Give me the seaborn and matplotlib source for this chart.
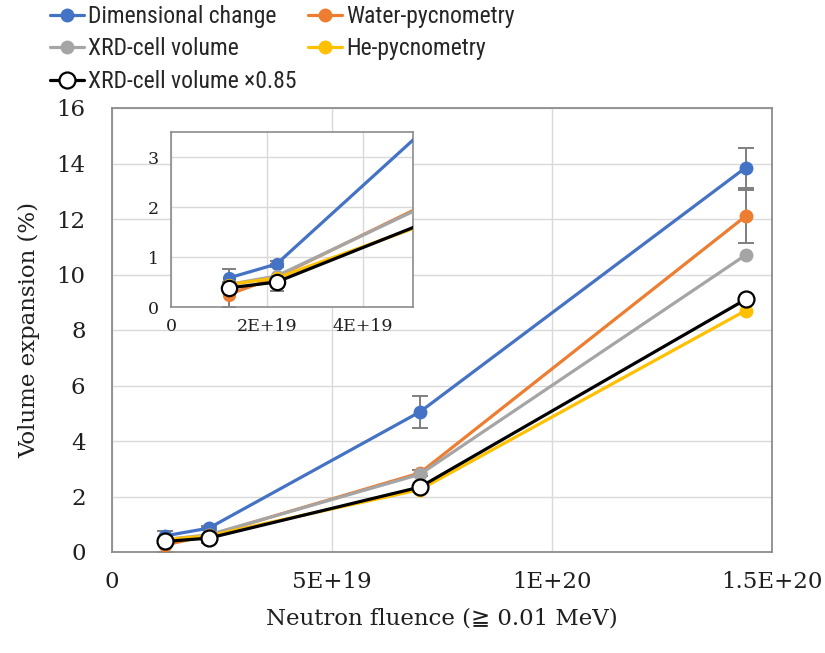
import numpy as np
import pandas as pd
import matplotlib
matplotlib.use("Agg")
import matplotlib.pyplot as plt
import seaborn as sns
from matplotlib import font_manager

# ---- data ----
fluence = [1.2e19, 2.2e19, 7.0e19, 1.44e20]
dimensional = [0.58, 0.86, 5.05, 13.85]
dimensional_err = [0.18, 0.06, 0.58, 0.72]
water = [0.25, 0.60, 2.85, 12.1]
water_err = [0.25, 0.27, 0.10, 0.95]
xrd = [0.45, 0.62, 2.80, 10.7]
he = [0.45, 0.58, 2.25, 8.7]
xrd085 = [0.38, 0.50, 2.34, 9.1]

series_names = ["Dimensional change", "Water-pycnometry", "XRD-cell volume",
                "He-pycnometry", "XRD-cell volume \u00d70.85"]
series_values = [dimensional, water, xrd, he, xrd085]
series_colors = ["#4472C4", "#ED7D31", "#A5A5A5", "#FFC000", "#000000"]

main_xticks = [0, 5e19, 1e20, 1.5e20]
main_xticklabels = ["0", "5E+19", "1E+20", "1.5E+20"]
main_yticks = [0, 2, 4, 6, 8, 10, 12, 14, 16]
inset_xticks = [0, 2e19, 4e19]
inset_xticklabels = ["0", "2E+19", "4E+19"]
inset_yticks = [0, 1, 2, 3]

sns.set_theme(style="white")
avail = {f.name for f in font_manager.fontManager.ttflist}
serif = ["DejaVu Serif", "DejaVu Sans"]
plt.rcParams["font.family"] = serif
legend_font = next((f for f in ["Liberation Sans Narrow", "Roboto Condensed",
                                "Open Sans Condensed", "Noto Sans Condensed"] if f in avail),
                   "Liberation Sans")
legend_size = 17 if "Narrow" in legend_font or "Condensed" in legend_font else 13.5

fig = plt.figure(figsize=(8.25, 6.53), dpi=100)
W, H = 825, 653
ax = fig.add_axes([112 / W, 1 - 552 / H, 660 / W, 444 / H])
axin = fig.add_axes([171 / W, 1 - 307 / H, 242 / W, 175 / H])

grid_c = "#D9D9D9"
spine_c = "#8C8C8C"
err_c = "#7F7F7F"


def draw(a, ms, lw, capsize):
    a.errorbar(fluence, dimensional, yerr=dimensional_err, fmt="none", ecolor=err_c,
               elinewidth=1.4, capsize=capsize, capthick=1.4, zorder=1.5)
    a.errorbar(fluence, water, yerr=water_err, fmt="none", ecolor=err_c,
               elinewidth=1.4, capsize=capsize, capthick=1.4, zorder=1.5)
    for i, (name, vals, c) in enumerate(zip(series_names, series_values, series_colors)):
        df = pd.DataFrame({"x": fluence, "y": vals})
        if c == "#000000":
            sns.lineplot(data=df, x="x", y="y", ax=a, color=c, marker="o", markersize=ms + 1.5,
                         linewidth=lw, markerfacecolor="white", markeredgecolor="black",
                         markeredgewidth=1.6, label=name, errorbar=None, zorder=3 + i)
        else:
            sns.lineplot(data=df, x="x", y="y", ax=a, color=c, marker="o", markersize=ms,
                         linewidth=lw, markeredgecolor=c, markeredgewidth=0,
                         label=name, errorbar=None, zorder=3 + i)


draw(ax, 10, 2.3, 6)
draw(axin, 9.5, 2.3, 5)

# main axes styling
ax.set_xlim(0, 1.5e20)
ax.set_ylim(0, 16)
ax.set_xticks(main_xticks)
ax.set_xticklabels(main_xticklabels)
ax.set_yticks(main_yticks)
ax.grid(True, color=grid_c, linewidth=1.0)
ax.set_axisbelow(True)
for s in ax.spines.values():
    s.set_color(spine_c)
    s.set_linewidth(1.3)
ax.tick_params(axis="both", length=0, labelsize=16.5, colors="#1f1f1f")
ax.tick_params(axis="x", pad=14)
ax.tick_params(axis="y", pad=19)
ax.set_xlabel("Neutron fluence (\u2267 0.01 MeV)", fontsize=16.5, color="#1f1f1f", labelpad=10)
ax.set_ylabel("Volume expansion (%)", fontsize=16.5, color="#1f1f1f", labelpad=12)

handles, labels = ax.get_legend_handles_labels()
ax.get_legend().remove()
axin.get_legend().remove()

# inset styling
axin.set_xlim(0, 5.04e19)
axin.set_ylim(0, 3.5)
axin.set_xticks(inset_xticks)
axin.set_xticklabels(inset_xticklabels)
axin.set_yticks(inset_yticks)
axin.grid(True, color=grid_c, linewidth=1.0)
axin.set_axisbelow(True)
axin.set_facecolor("white")
for s in axin.spines.values():
    s.set_color(spine_c)
    s.set_linewidth(1.2)
axin.tick_params(axis="both", length=0, labelsize=12.5, colors="#1f1f1f")
axin.tick_params(axis="x", pad=8)
axin.tick_params(axis="y", pad=9)
axin.set_xlabel("")
axin.set_ylabel("")

order = [0, 2, 4, 1, 3]
fig.legend([handles[i] for i in order], [labels[i] for i in order],
           loc="upper left", bbox_to_anchor=(50 / W, 1 - 5 / H), ncol=2, frameon=False,
           borderaxespad=0, borderpad=0, handlelength=1.45, handletextpad=0.15,
           columnspacing=0.5, labelspacing=0.4,
           prop={"family": legend_font, "size": legend_size})

fig.savefig("out.png", dpi=100)
